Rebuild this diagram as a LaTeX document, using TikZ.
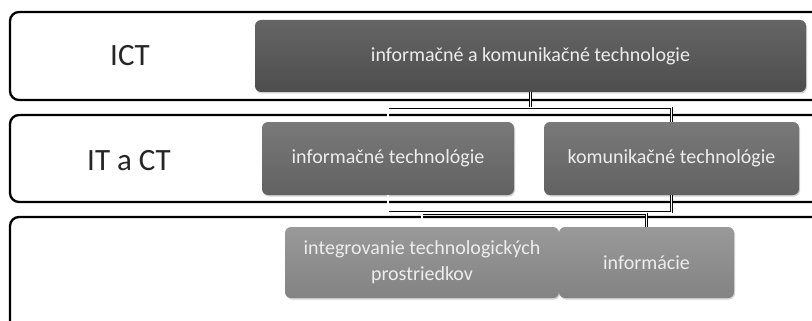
\documentclass[tikz,border=0pt]{standalone}
\usepackage{fontspec}
\setmainfont{Carlito}
\usetikzlibrary{shadows,calc}
\definecolor{lvlA}{HTML}{545454}
\definecolor{lvlB}{HTML}{6A6A6A}
\definecolor{lvlC}{HTML}{8E8E8E}
\begin{document}
\begin{tikzpicture}[x=1pt,y=-1pt,
  row/.style={draw=black, line width=2.3pt, rounded corners=9pt, fill=white},
  rowlabel/.style={font=\fontsize{31}{34}\selectfont, text=black!85},
  box/.style={rounded corners=6pt, text=white!93!black, align=center,
    inner sep=2pt, font=\fontsize{20}{26}\selectfont,
    drop shadow={opacity=0.35, shadow xshift=1pt, shadow yshift=-1.5pt}},
  boxA/.style={box, top color=lvlA!90!white, bottom color=lvlA!92!black},
  boxB/.style={box, top color=lvlB!90!white, bottom color=lvlB!92!black},
  boxC/.style={box, top color=lvlC!90!white, bottom color=lvlC!92!black},
  link/.style={draw=black, line width=0.55pt, double=white, double distance=1.2pt}
]
\useasboundingbox (0,0) rectangle (812,321);
\clip (0,0) rectangle (812,321);

% level bands
\draw[row] (10,12) rectangle (840,100);
\draw[row] (10,115) rectangle (840,202);
\draw[row] (10,217) rectangle (840,360);

\node[rowlabel] (lab1) at (130,56) {ICT};
\node[rowlabel] (lab2) at (129,161) {IT a CT};

% boxes
\node[boxA, minimum width=551pt, minimum height=72pt] (ict) at (530.5,56)
  {informačné a komunikačné technologie};
\node[boxB, minimum width=252pt, minimum height=73pt] (it) at (388,158.5)
  {informačné technológie};
\node[boxB, minimum width=255pt, minimum height=73pt] (ct) at (671.5,158.5)
  {komunikačné technológie};
\node[boxC, minimum width=274pt, minimum height=71pt] (ig) at (422,262.5)
  {integrovanie technologických\\prostriedkov};
\node[boxC, minimum width=175pt, minimum height=71pt] (inf) at (646.5,262.5)
  {informácie};

% connectors between levels
\draw[link] (ict.south) -- ($(ict.south)+(0,16)$);
\draw[link] (it.north) -- ++(0,-14) -| (ct.north);
\draw[link] (it.south) -- ++(0,17) -| (ct.south);
\draw[link] (ig.north) -- ++(0,-13) -| (inf.north);
\end{tikzpicture}
\end{document}
